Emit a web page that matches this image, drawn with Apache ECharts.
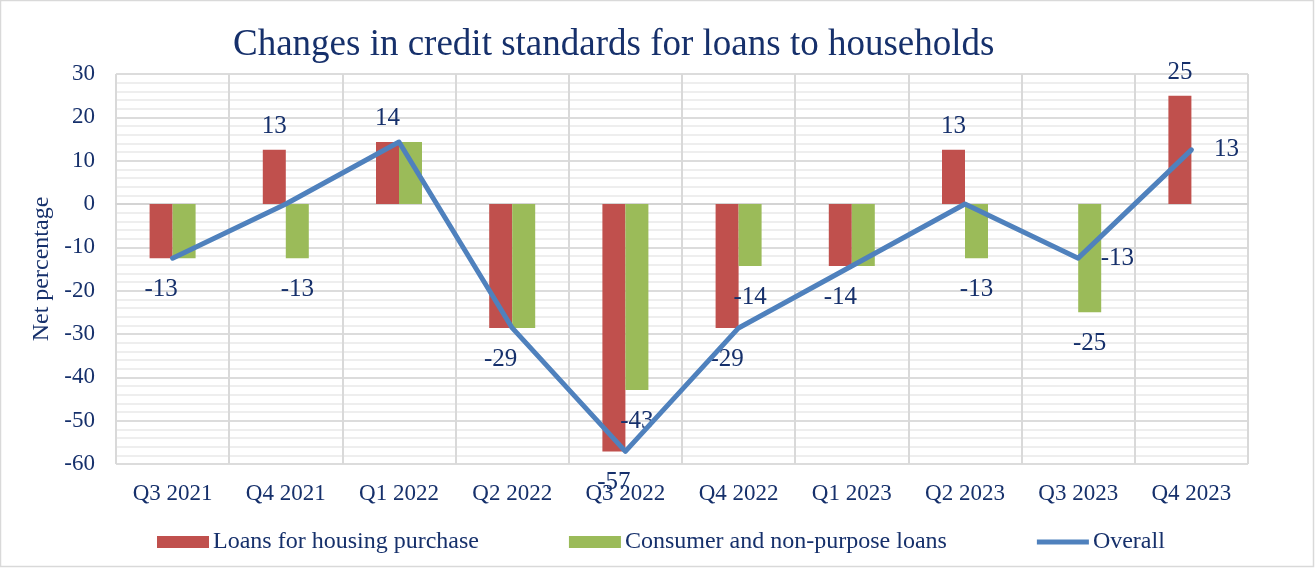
<!DOCTYPE html>
<html>
<head>
<meta charset="utf-8">
<title>Changes in credit standards for loans to households</title>
<script src="https://cdn.jsdelivr.net/npm/echarts@6/dist/echarts.min.js"></script>
<style>
  html, body { margin: 0; padding: 0; background: #fff; }
  #chart { width: 1316px; height: 569px; }
</style>
</head>
<body>
<div id="chart"></div>
<script>
// quarters on the x axis
const quarters = ['Q3 2021', 'Q4 2021', 'Q1 2022', 'Q2 2022', 'Q3 2022', 'Q4 2022', 'Q1 2023', 'Q2 2023', 'Q3 2023', 'Q4 2023']

// net percentages
const housing = [-12.5, 12.5, 14.3, -28.6, -57.1, -28.6, -14.3, 12.5, 0, 25]
const consumer = [-12.5, -12.5, 14.3, -28.6, -42.9, -14.3, -14.3, -12.5, -25, 0]
const overall = [-12.5, 0, 14.3, -28.6, -57.1, -28.6, -14.3, 0, -12.5, 12.5]

// data labels as printed on the chart ('' = no label)
const housingLabels = ['-13', '13', '14', '-29', '-57', '-29', '-14', '13', '', '25']
const consumerLabels = ['', '-13', '', '', '-43', '-14', '', '-13', '-25', '']
const overallLabels = ['', '', '', '', '', '', '', '', '-13', '13']

const navy = '#16306b'
const font = 'Liberation Serif'

const barItems = (values, labels) => values.map((v, i) => ({
  value: v,
  label: {
    show: labels[i] !== '',
    position: v < 0 ? 'bottom' : 'top',
    distance: v < 0 ? 19 : 11,
    formatter: labels[i]
  }
}))

const chart = echarts.init(document.getElementById('chart'))

chart.setOption({
  animation: false,
  textStyle: { fontFamily: font },
  title: {
    text: 'Changes in credit standards for loans to households',
    left: 233,
    top: 27,
    padding: 0,
    textStyle: { fontFamily: font, fontSize: 37, fontWeight: 'normal', color: navy }
  },
  graphic: [{
    type: 'rect',
    shape: { x: 0.5, y: 0.5, width: 1313, height: 566 },
    style: { fill: 'none', stroke: '#d9d9d9', lineWidth: 1.5 },
    silent: true
  }],
  legend: {
    left: 157,
    top: 530,
    padding: 0,
    itemWidth: 52,
    itemHeight: 12,
    itemGap: 90,
    textStyle: { fontFamily: font, fontSize: 24, color: navy, padding: [0, 0, 0, -1] },
    data: [
      { name: 'Loans for housing purchase', icon: 'rect' },
      { name: 'Consumer and non-purpose loans', icon: 'rect' },
      { name: 'Overall', icon: 'path://M0,0 L52,0 L52,5 L0,5 Z' }
    ]
  },
  grid: { left: 116, right: 68, top: 74, bottom: 105 },
  xAxis: {
    type: 'category',
    data: quarters,
    axisTick: { show: false },
    axisLine: { show: true, onZero: true, lineStyle: { color: '#d4d4d4', width: 2 } },
    axisLabel: { fontFamily: font, fontSize: 23, color: navy, margin: 18, interval: 0 },
    splitLine: { show: true, lineStyle: { color: '#d9d9d9', width: 2 } }
  },
  yAxis: {
    type: 'value',
    min: -60,
    max: 30,
    interval: 10,
    name: 'Net percentage',
    nameLocation: 'middle',
    nameGap: 56,
    nameTextStyle: { fontFamily: font, fontSize: 24, color: navy },
    axisLabel: { fontFamily: font, fontSize: 23, color: navy, margin: 21 },
    axisLine: { show: false },
    axisTick: { show: false },
    splitLine: { show: true, lineStyle: { color: '#dcdcdc', width: 2 } },
    minorTick: { show: false, splitNumber: 5 },
    minorSplitLine: { show: true, lineStyle: { color: '#eeeeee', width: 2 } }
  },
  series: [
    {
      name: 'Loans for housing purchase',
      type: 'bar',
      data: barItems(housing, housingLabels),
      barWidth: 23,
      barGap: '0%',
      itemStyle: { color: '#c0504d' },
      label: { fontFamily: font, fontSize: 25, color: navy },
      z: 2
    },
    {
      name: 'Consumer and non-purpose loans',
      type: 'bar',
      data: barItems(consumer, consumerLabels),
      barWidth: 23,
      itemStyle: { color: '#9bbb59' },
      label: { fontFamily: font, fontSize: 25, color: navy },
      z: 2
    },
    {
      name: 'Overall',
      type: 'line',
      data: overall,
      symbol: 'circle',
      symbolSize: 1,
      itemStyle: { color: '#4f81bd' },
      lineStyle: { color: '#4f81bd', width: 5, cap: 'round', join: 'round' },
      label: {
        show: true,
        position: 'right',
        distance: 22,
        fontFamily: font,
        fontSize: 25,
        color: navy,
        formatter: p => overallLabels[p.dataIndex]
      },
      z: 3
    }
  ]
})

window.addEventListener('resize', () => chart.resize())
</script>
</body>
</html>
